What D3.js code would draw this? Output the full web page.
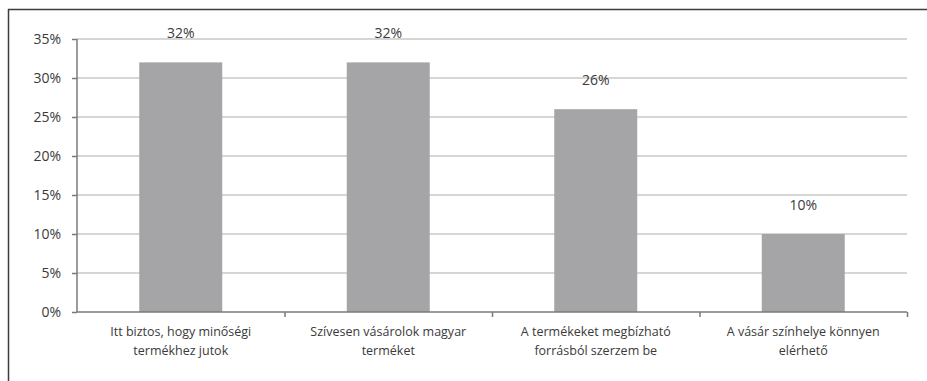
<!DOCTYPE html>
<html>
<head>
<meta charset="utf-8">
<script src="https://cdn.jsdelivr.net/npm/d3@7/dist/d3.min.js"></script>
<style>
  html, body { margin: 0; padding: 0; background: #fff; }
  svg { display: block; }
  text { font-family: "Open Sans", "Liberation Sans", sans-serif; fill: #3a3a3a; }
</style>
</head>
<body>
<svg id="chart" width="927" height="381"></svg>
<script>
// Survey answers and their shares (%)
const categories = [
  ["Itt biztos, hogy minőségi", "termékhez jutok"],
  ["Szívesen vásárolok magyar", "terméket"],
  ["A termékeket megbízható", "forrásból szerzem be"],
  ["A vásár színhelye könnyen", "elérhető"]
];
const values = [32, 32, 26, 10];
const yTicks = [0, 5, 10, 15, 20, 25, 30, 35];

const svg = d3.select("#chart");
const W = 927, H = 381;
const margin = { left: 77, right: 20, top: 39, bottom: 69 };
const plotW = W - margin.left - margin.right;
const plotH = H - margin.top - margin.bottom;

// Frame around the chart (top and left edges visible)
svg.append("line").attr("x1", 8).attr("x2", W).attr("y1", 9.5).attr("y2", 9.5)
  .attr("stroke", "#3c3c3c").attr("stroke-width", 1.5);
svg.append("line").attr("x1", 8.5).attr("x2", 8.5).attr("y1", 9).attr("y2", H)
  .attr("stroke", "#3c3c3c").attr("stroke-width", 1.5);

const g = svg.append("g").attr("transform", `translate(${margin.left},${margin.top})`);

const keys = d3.range(categories.length);
const x = d3.scaleBand().domain(keys).range([0, plotW]).paddingInner(0.6).paddingOuter(0.3);
const xBoundary = d3.scaleLinear().domain([0, categories.length]).range([0, plotW]);
const y = d3.scaleLinear().domain([0, 35]).range([plotH, 0]);

// Horizontal gridlines
g.append("g").selectAll("line").data(yTicks.filter(t => t > 0)).join("line")
  .attr("x1", 0).attr("x2", plotW)
  .attr("y1", d => y(d)).attr("y2", d => y(d))
  .attr("stroke", "#c9c9c9").attr("stroke-width", 1.5);

// Bars
g.append("g").selectAll("rect").data(values).join("rect")
  .attr("x", (d, i) => x(i)).attr("width", x.bandwidth())
  .attr("y", d => y(d)).attr("height", d => plotH - y(d))
  .attr("fill", "#a5a5a8");

// Value labels above bars
g.append("g").selectAll("text").data(values).join("text")
  .attr("x", (d, i) => x(i) + x.bandwidth() / 2)
  .attr("y", d => y(d) - 29)
  .attr("dy", "0.35em")
  .attr("text-anchor", "middle")
  .attr("font-size", 14)
  .text(d => d + "%");

// Y axis
const yAxis = g.append("g")
  .call(d3.axisLeft(y).tickValues(yTicks).tickSize(5).tickPadding(11).tickFormat(d => d + "%"));
yAxis.select(".domain").attr("stroke", "#7a7a7a").attr("stroke-width", 1.5).attr("d", `M0,${plotH}V0`);
yAxis.selectAll(".tick line").attr("stroke", "#7a7a7a").attr("stroke-width", 1.5);
yAxis.selectAll(".tick text").attr("font-size", 14).attr("fill", "#3a3a3a")
  .attr("font-family", "Open Sans, Liberation Sans, sans-serif");

// X axis with boundary ticks
const xAxis = g.append("g").attr("transform", `translate(0,${plotH})`)
  .call(d3.axisBottom(xBoundary).tickValues(d3.range(1, categories.length + 1)).tickSize(5).tickFormat(""));
xAxis.select(".domain").attr("stroke", "#7a7a7a").attr("stroke-width", 1.5).attr("d", `M0,0H${plotW}`);
xAxis.selectAll(".tick line").attr("stroke", "#7a7a7a").attr("stroke-width", 1.5);

// Category labels (two lines each)
const catG = g.append("g").selectAll("text").data(categories).join("text")
  .attr("text-anchor", "middle")
  .attr("font-size", 12.5)
  .attr("transform", (d, i) => `translate(${x(i) + x.bandwidth() / 2},${plotH + 20})`);
catG.selectAll("tspan").data(d => d).join("tspan")
  .attr("x", 0).attr("y", (d, j) => j * 19)
  .attr("dy", "0.35em")
  .text(d => d);
</script>
</body>
</html>
